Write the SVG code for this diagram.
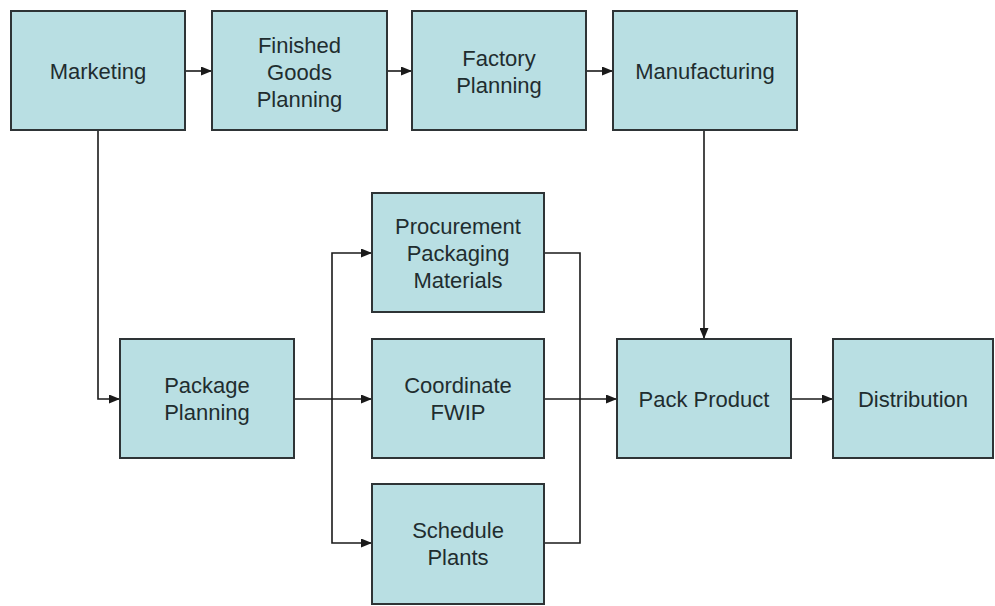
<svg xmlns="http://www.w3.org/2000/svg" width="995" height="606" viewBox="0 0 995 606">
<style>
.box{fill:#b9dfe3;stroke:#2e3436;stroke-width:2}
.lbl{font-family:"Liberation Sans",Arial,sans-serif;font-size:22px;fill:#1f2d2f;text-anchor:middle}
.con{fill:none;stroke:#1a1a1a;stroke-width:1.6}
</style>
<defs>
<marker id="arr" markerUnits="userSpaceOnUse" markerWidth="11" markerHeight="9" refX="10" refY="4.5" orient="auto">
<path d="M0,0 L11,4.5 L0,9 Z" fill="#1a1a1a"/>
</marker>
</defs>
<rect width="995" height="606" fill="#ffffff"/>
<g id="connectors">
<path class="con" d="M185,71 H211" marker-end="url(#arr)"/>
<path class="con" d="M387,71 H411" marker-end="url(#arr)"/>
<path class="con" d="M586,71 H612" marker-end="url(#arr)"/>
<path class="con" d="M98,130 V399 H119" marker-end="url(#arr)"/>
<path class="con" d="M294,399 H371" marker-end="url(#arr)"/>
<path class="con" d="M332,399 V253 H371" marker-end="url(#arr)"/>
<path class="con" d="M332,399 V543 H371" marker-end="url(#arr)"/>
<path class="con" d="M544,253 H580 V543 H544"/>
<path class="con" d="M544,399 H616" marker-end="url(#arr)"/>
<path class="con" d="M704,130 V338" marker-end="url(#arr)"/>
<path class="con" d="M791,399 H832" marker-end="url(#arr)"/>
</g>
<g id="marketing">
<rect class="box" x="11" y="11" width="174" height="119"/>
<text class="lbl" x="98" y="79">Marketing</text>
</g>
<g id="finished-goods-planning">
<rect class="box" x="212" y="11" width="175" height="119"/>
<text class="lbl" x="299.5" y="52.5">Finished</text>
<text class="lbl" x="299.5" y="79.5">Goods</text>
<text class="lbl" x="299.5" y="106.5">Planning</text>
</g>
<g id="factory-planning">
<rect class="box" x="412" y="11" width="174" height="119"/>
<text class="lbl" x="499" y="66">Factory</text>
<text class="lbl" x="499" y="93">Planning</text>
</g>
<g id="manufacturing">
<rect class="box" x="613" y="11" width="184" height="119"/>
<text class="lbl" x="705" y="79">Manufacturing</text>
</g>
<g id="package-planning">
<rect class="box" x="120" y="339" width="174" height="119"/>
<text class="lbl" x="207" y="393">Package</text>
<text class="lbl" x="207" y="420">Planning</text>
</g>
<g id="procurement-packaging-materials">
<rect class="box" x="372" y="193" width="172" height="119"/>
<text class="lbl" x="458" y="234">Procurement</text>
<text class="lbl" x="458" y="261">Packaging</text>
<text class="lbl" x="458" y="288">Materials</text>
</g>
<g id="coordinate-fwip">
<rect class="box" x="372" y="339" width="172" height="119"/>
<text class="lbl" x="458" y="393">Coordinate</text>
<text class="lbl" x="458" y="420">FWIP</text>
</g>
<g id="schedule-plants">
<rect class="box" x="372" y="484" width="172" height="120"/>
<text class="lbl" x="458" y="538">Schedule</text>
<text class="lbl" x="458" y="565">Plants</text>
</g>
<g id="pack-product">
<rect class="box" x="617" y="339" width="174" height="119"/>
<text class="lbl" x="704" y="407">Pack Product</text>
</g>
<g id="distribution">
<rect class="box" x="833" y="339" width="160" height="119"/>
<text class="lbl" x="913" y="407">Distribution</text>
</g>
</svg>
